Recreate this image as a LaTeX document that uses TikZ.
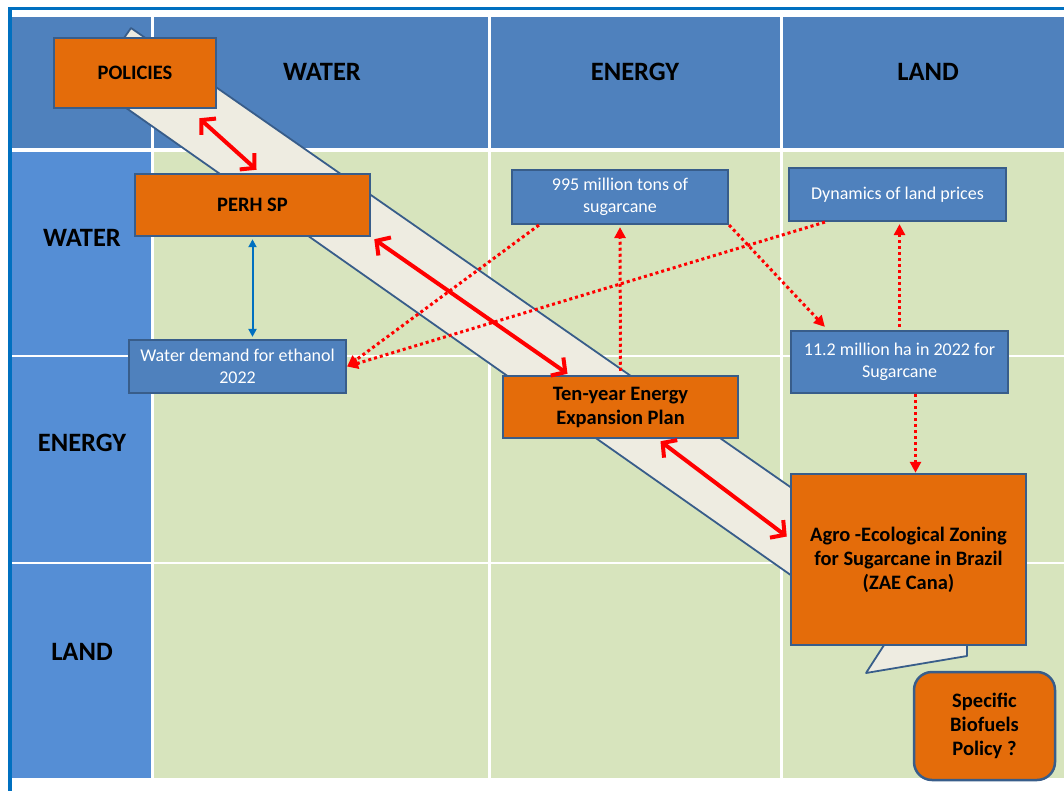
\documentclass[tikz,border=0pt]{standalone}
\usepackage{fontspec}
\setmainfont{Carlito}
\usetikzlibrary{positioning, calc, arrows.meta}
\definecolor{hdrblue}{RGB}{79,129,189}
\definecolor{sideblue}{RGB}{85,142,213}
\definecolor{cellgreen}{RGB}{215,228,189}
\definecolor{boxorange}{RGB}{228,108,10}
\definecolor{edgeblue}{RGB}{56,93,138}
\definecolor{frameblue}{RGB}{0,112,192}
\definecolor{bandfill}{RGB}{238,236,225}

\begin{document}
\begin{tikzpicture}[x=1pt,y=-1pt,
  orangebox/.style={draw=edgeblue, line width=2.5pt, fill=boxorange, font=\fontsize{20.5}{24}\selectfont\bfseries, align=center, inner sep=0pt},
  bluebox/.style={draw=edgeblue, line width=2.2pt, fill=hdrblue, text=white, font=\fontsize{18}{22}\selectfont, align=center, inner sep=0pt},
  headtext/.style={font=\fontsize{26.5}{30}\selectfont\bfseries},
  redlink/.style={red, line width=4pt, {Straight Barb[length=10pt,width=22pt]}-{Straight Barb[length=10pt,width=22pt]}},
  dotlink/.style={red, line width=3pt, dash pattern=on 3pt off 3pt, -{Triangle[length=11pt,width=11pt]}}]
\useasboundingbox (0,0) rectangle (1064,791);
% frame and grid
\draw[frameblue, line width=3.5pt] (10,791) -- (10,8.5) -- (1064,8.5);
\fill[hdrblue] (12,17) rectangle (151,148);
\foreach \xa/\xb in {154/488, 491/780, 783/1064} {
  \fill[hdrblue] (\xa,17) rectangle (\xb,148);
  \foreach \ya/\yb in {152/355, 357/562, 564/778}
    \fill[cellgreen] (\xa,\ya) rectangle (\xb,\yb);
}
\foreach \ya/\yb in {152/355, 357/562, 564/778}
  \fill[sideblue] (12,\ya) rectangle (151,\yb);
\node[headtext] (colwater) at (322,72) {WATER};
\node[headtext] (colenergy) at (635,72) {ENERGY};
\node[headtext] (colland) at (928,72) {LAND};
\node[headtext] (rowwater) at (82,238) {WATER};
\node[headtext] (rowenergy) at (82,443) {ENERGY};
\node[headtext] (rowland) at (82,652) {LAND};
% diagonal band
\filldraw[fill=bandfill, draw=edgeblue, line width=1.8pt, line join=round]
  (131,28) -- (967,610) -- (967,656) -- (866,673) -- (886,642) -- (92,84) -- cycle;
% boxes
\node[orangebox, minimum width=162pt, minimum height=70pt] (policies) at (135,73) {POLICIES};
\node[orangebox, minimum width=235pt, minimum height=62pt] (perh) at (252.5,205) {PERH SP};
\node[bluebox, minimum width=217pt, minimum height=53pt] (demand) at (237.5,366.5) {Water demand for ethanol\\2022};
\node[bluebox, minimum width=216pt, minimum height=54pt] (tons) at (620,197) {995 million tons of\\sugarcane};
\node[bluebox, minimum width=217pt, minimum height=53pt] (prices) at (897.5,194.5) {Dynamics of land prices};
\node[bluebox, minimum width=217pt, minimum height=62pt] (hectares) at (899.5,362) {11.2 million ha in 2022 for\\Sugarcane};
\node[orangebox, minimum width=235pt, minimum height=62pt] (plan) at (620.5,407) {Ten-year Energy\\Expansion Plan};
\node[orangebox, minimum width=235pt, minimum height=171pt] (zae) at (908.5,559.5) {Agro -Ecological Zoning\\for Sugarcane in Brazil\\(ZAE Cana)};
\node[orangebox, rounded corners=18pt, minimum width=141pt, minimum height=108pt] (biofuel) at (984.5,726) {Specific\\Biofuels\\Policy ?};
% links
\draw[redlink] ([xshift=-18pt,yshift=-9pt]policies.south east) -- ([xshift=4pt,yshift=3pt]perh.north);
\draw[redlink] ([xshift=3pt,yshift=-2pt]perh.south east) -- ([xshift=-53pt,yshift=1pt]plan.north);
\draw[redlink] ([xshift=40pt,yshift=-2pt]plan.south) -- ([xshift=-3pt,yshift=23pt]zae.west);
\draw[frameblue, line width=2pt, {Triangle[length=8pt,width=8pt]}-{Triangle[length=8pt,width=8pt]}]
  ([yshift=-2pt]perh.south) -- ([yshift=2pt]perh.south |- demand.north);
\draw[dotlink] ([xshift=28pt]tons.south west) -- (demand.east);
\draw[dotlink] ([xshift=37pt]prices.south west) -- (demand.east);
\draw[dotlink] ([yshift=4pt]plan.north) -- ([yshift=-2pt]tons.south);
\draw[dotlink] (tons.south east) -- ([xshift=35pt,yshift=3pt]hectares.north west);
\draw[dotlink] ([yshift=3pt]hectares.north) -- ([yshift=-2pt]hectares.north |- prices.south);
\draw[dotlink] ([xshift=16pt]hectares.south) -- ([xshift=16pt]hectares.south |- zae.north);
\end{tikzpicture}
\end{document}
